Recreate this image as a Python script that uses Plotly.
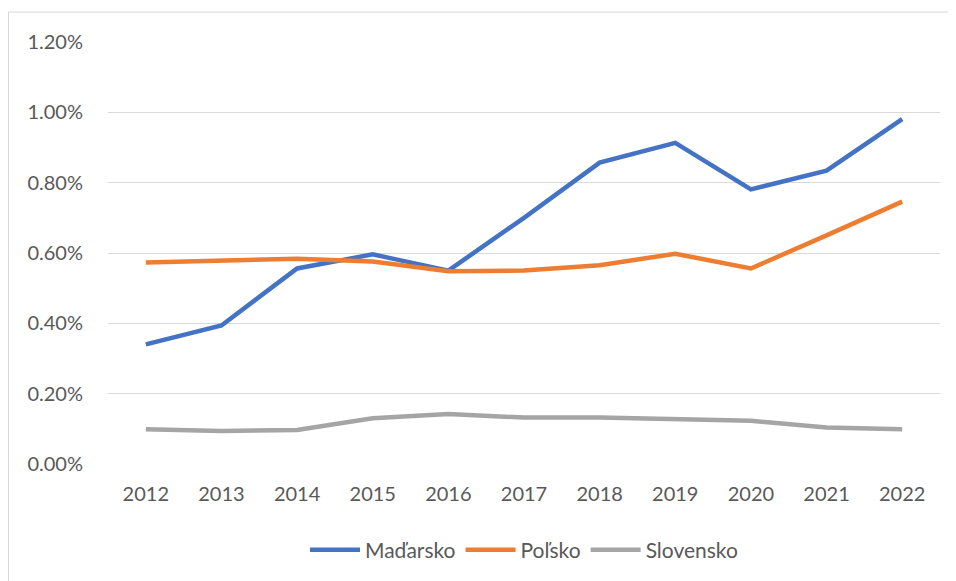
import plotly.graph_objects as go

years = ["2012", "2013", "2014", "2015", "2016", "2017", "2018", "2019", "2020", "2021", "2022"]
madarsko = [0.340, 0.394, 0.556, 0.596, 0.550, 0.700, 0.857, 0.913, 0.781, 0.834, 0.981]
polsko = [0.573, 0.578, 0.584, 0.576, 0.548, 0.550, 0.565, 0.598, 0.556, 0.650, 0.746]
slovensko = [0.099, 0.094, 0.097, 0.130, 0.142, 0.132, 0.132, 0.128, 0.123, 0.104, 0.099]
y_ticks = [0.0, 0.002, 0.004, 0.006, 0.008, 0.010, 0.012]

series = [
    ("Maďarsko", madarsko, "#4472C4"),
    ("Poľsko", polsko, "#ED7D31"),
    ("Slovensko", slovensko, "#A5A5A5"),
]

fig = go.Figure()
for name, vals, color in series:
    fig.add_trace(go.Scatter(
        x=years, y=[v / 100 for v in vals], name=name, mode="lines",
        line=dict(color=color, width=4.5), hoverinfo="x+y+name",
    ))

OFF = 8  # browser body margin
W, H = 956 - OFF, 581 - OFF
L, R, T, B = 108 - OFF, 16, 42 - OFF, 116
pw, ph = W - L - R, H - T - B

def px_x(p):
    return (p - OFF - L) / pw

def px_y(p):
    return (H - B - (p - OFF)) / ph

fig.update_layout(
    width=W, height=H,
    margin=dict(l=L, r=R, t=T, b=B),
    paper_bgcolor="white", plot_bgcolor="white",
    font=dict(family="Lato, 'Open Sans', sans-serif", size=20, color="#595959"),
    showlegend=True,
    legend=dict(orientation="h", x=0.5, xanchor="center", y=px_y(550), yanchor="middle",
                font=dict(size=21, color="#595959"), itemwidth=50, tracegroupgap=0),
    xaxis=dict(type="category", range=[-0.5, 10.5], showgrid=False, showline=False, zeroline=False,
               ticks="", tickfont=dict(size=20, color="#595959"), ticklabelstandoff=16),
    yaxis=dict(range=[0, 0.012], tickvals=y_ticks, tickformat=".2%",
               showgrid=True, gridcolor="#D9D9D9", gridwidth=1, zeroline=False,
               showline=False, ticks="", tickfont=dict(size=20, color="#595959"),
               ticklabelstandoff=24),
    shapes=[dict(type="rect", xref="paper", yref="paper",
                 x0=px_x(8.5), x1=px_x(951), y0=px_y(600), y1=px_y(12),
                 line=dict(color="#D9D9D9", width=1), fillcolor="rgba(0,0,0,0)", layer="below")],
)

fig.write_html("out.html")
